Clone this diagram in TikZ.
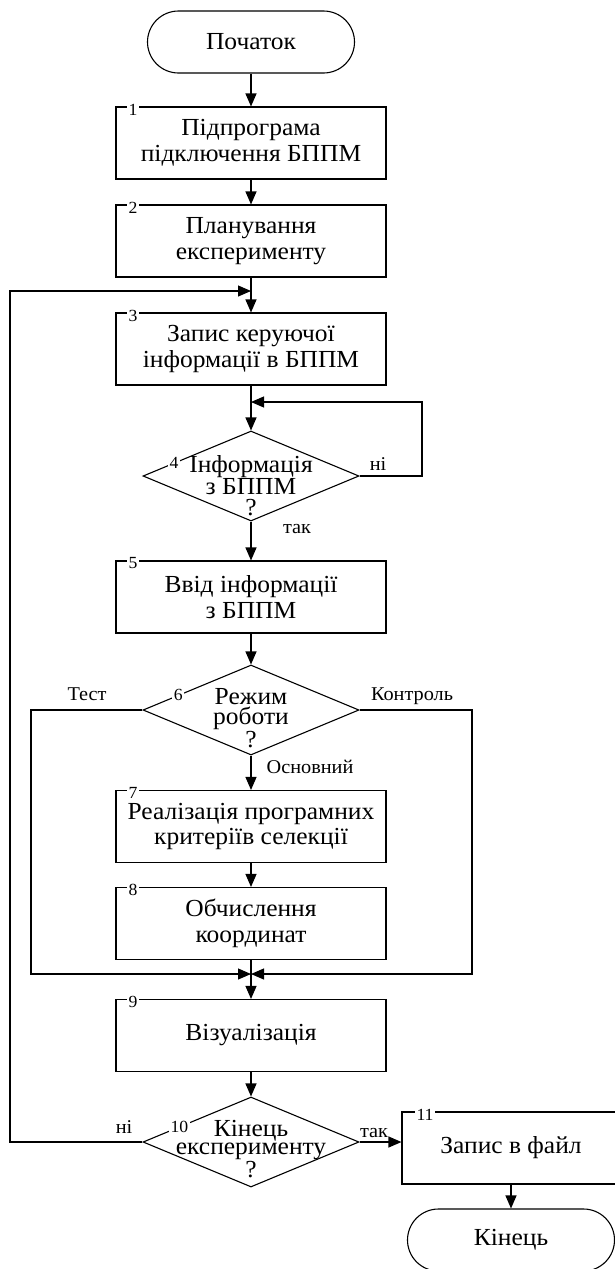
\documentclass[tikz,border=0pt]{standalone}
\usepackage{fontspec}
\setmainfont{Liberation Serif}[FakeStretch=1.04]
\usetikzlibrary{arrows.meta,shapes.geometric,calc}
\newcommand\mainfs{\fontsize{24.5}{25.5}\selectfont}
\newcommand\labfs{\fontsize{19.5}{20}\selectfont}
\newcommand\numfs{\fontsize{17}{18}\selectfont}
\begin{document}
\begin{tikzpicture}[x=1pt,y=-1pt,line width=1.1pt,
  arr/.style={-{Triangle[length=13pt,width=11pt]}},
  proc/.style={draw,rectangle,minimum width=270pt,minimum height=72pt,align=center,font=\mainfs,inner sep=0pt},
  term/.style={draw,rectangle,rounded corners=31pt,minimum width=207pt,minimum height=62pt,font=\mainfs},
  dec/.style={draw,diamond,minimum width=216pt,minimum height=90pt,inner sep=0pt},
  dtext/.style={align=center,inner sep=0pt},
  num/.style={fill=white,inner sep=1.5pt,font=\numfs},
  lab/.style={font=\labfs,inner sep=0pt,anchor=base},
]
\useasboundingbox (0,0) rectangle (614,1269);
\fill[white] (0,0) rectangle (614,1269);

% nodes
\node[term] (s) at (251,42) {Початок};
\node[proc] (b1) at (251,143) {Підпрограма\\підключення БППМ};
\node[proc] (b2) at (251,241) {Планування\\експерименту};
\node[proc] (b3) at (251,349) {Запис керуючої\\інформації в БППМ};
\node[dec] (d4) at (251,476) {};
\node[dtext,font=\fontsize{24.5}{21.5}\selectfont] (d4t) at (251,486) {Інформація\\з БППМ\\?};
\node[proc] (b5) at (251,597) {Ввід інформації\\з БППМ};
\node[dec] (d6) at (251,710) {};
\node[dtext,font=\fontsize{24.5}{20}\selectfont] (d6t) at (251,718) {Режим\\роботи\\?};
\node[proc] (b7) at (251,826.5) {Реалізація програмних\\критеріїв селекції};
\node[proc] (b8) at (251,923.5) {Обчислення\\координат};
\node[proc] (b9) at (251,1035.5) {Візуалізація};
\node[dec] (d10) at (251,1142) {};
\node[dtext,font=\fontsize{24.5}{18.5}\selectfont] (d10t) at (251,1149) {Кінець\\експерименту\\?};
\node[proc,minimum width=218pt] (b11) at (511,1148) {Запис в файл};
\node[term] (e) at (511,1240) {Кінець};

% number labels
\node[num,anchor=west] (n1) at ($(b1.north west)+(11,3)$) {1};
\node[num,anchor=west] (n2) at ($(b2.north west)+(11,3)$) {2};
\node[num,anchor=west] (n3) at ($(b3.north west)+(11,3)$) {3};
\node[num,anchor=west] (n5) at ($(b5.north west)+(11,3)$) {5};
\node[num,anchor=west] (n7) at ($(b7.north west)+(11,3)$) {7};
\node[num,anchor=west] (n8) at ($(b8.north west)+(11,3)$) {8};
\node[num,anchor=west] (n9) at ($(b9.north west)+(11,3)$) {9};
\node[num,anchor=west] (n11) at ($(b11.north west)+(13,3)$) {11};
\node[num] (n4) at ($(d4.west)!0.29!(d4.north)$) {4};
\node[num] (n6) at ($(d6.west)!0.33!(d6.north)$) {6};
\node[num] (n10) at ($(d10.west)!0.34!(d10.north)$) {10};

% branch labels
\node[lab] (l4n) at (378,470) {ні};
\node[lab] (l4y) at (297,533) {так};
\node[lab] (l6t) at (87,700) {Тест};
\node[lab] (l6k) at (412,700) {Контроль};
\node[lab] (l6o) at (310,773) {Основний};
\node[lab] (l10n) at (124,1133) {ні};
\node[lab] (l10y) at (374,1137) {так};

% coordinates
\coordinate (j1) at (251,291);
\coordinate (j2) at (251,402);
\coordinate (r4) at (422,402);
\coordinate (m) at (251,974);
\coordinate (tl) at (31,974);
\coordinate (tr) at (472,974);
\coordinate (lb) at (10,291);

% connectors
\draw[arr] (s) -- (b1);
\draw[arr] (b1) -- (b2);
\draw[arr] (b2) -- (b3);
\draw[arr] (b3) -- (d4);
\draw[arr] (d4.east) -| (r4) -- (j2);
\draw[arr] (d4) -- (b5);
\draw[arr] (b5) -- (d6);
\draw[arr] (d6) -- (b7);
\draw[arr] (b7) -- (b8);
\draw[arr] (b8) -- (b9);
\draw[arr] (d6.west) -| (tl) -- (m);
\draw[arr] (d6.east) -| (tr) -- (m);
\draw[arr] (b9) -- (d10);
\draw[arr] (d10.west) -| (lb) -- (j1);
\draw[arr] (d10.east) -- (d10.east -| b11.west);
\draw[arr] (b11) -- (e);
\end{tikzpicture}
\end{document}
